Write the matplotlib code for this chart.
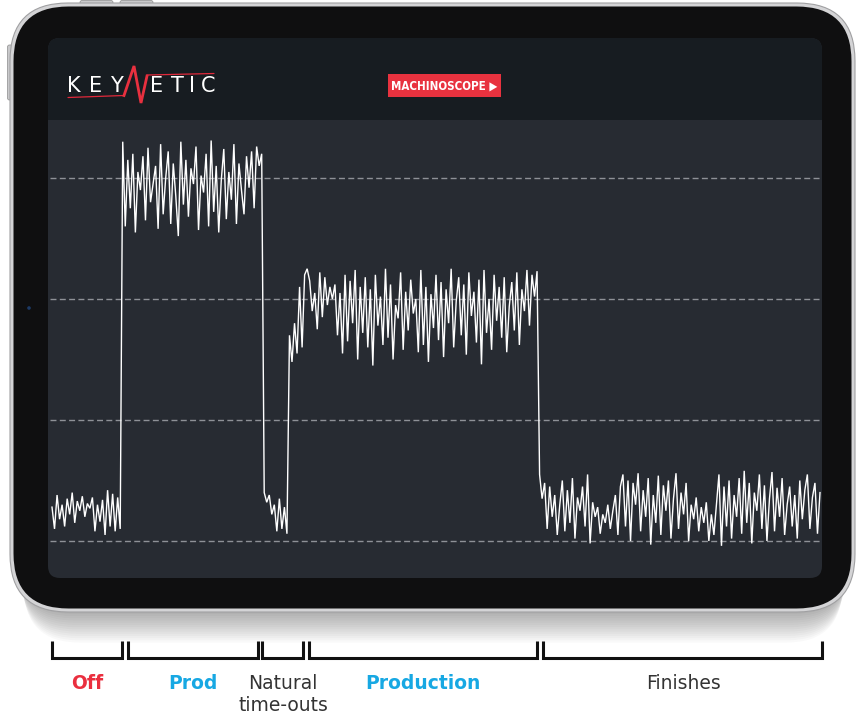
import numpy as np
import matplotlib
matplotlib.use("Agg")
import matplotlib.pyplot as plt
from matplotlib.patches import FancyBboxPatch, Rectangle, Circle

# ---------------- data (signal level, grid units) ----------------
off_values = [0.28, 0.10, 0.38, 0.18, 0.30, 0.12, 0.35, 0.22, 0.40, 0.15, 0.33, 0.25, 0.37, 0.20,
              0.31, 0.27, 0.36, 0.08, 0.30, 0.16, 0.34, 0.05, 0.42, 0.12, 0.39, 0.08, 0.36, 0.10]
prod_values = [3.30, 2.60, 3.15, 2.75, 3.20, 2.55, 3.05, 2.90, 3.18, 2.65, 3.25, 2.80, 2.95, 3.10,
               2.58, 3.28, 2.70, 3.00, 3.22, 2.62, 3.12, 2.85, 2.52, 3.30, 2.78, 3.15, 2.68, 3.08,
               2.95, 3.26, 2.57, 3.02, 2.88, 3.20, 2.60, 3.31, 2.72, 3.10, 2.55, 2.98, 3.24, 2.66,
               3.05, 2.82, 3.28, 2.62, 3.12, 2.90, 2.70, 3.18, 2.92, 3.22, 2.75, 3.26, 3.10, 3.20]
timeout_values = [0.40, 0.32, 0.38, 0.22, 0.30, 0.08, 0.35, 0.10, 0.28, 0.06]
production_values = [1.70, 1.48, 1.80, 1.55, 2.10, 1.60, 2.20, 2.25, 2.15, 1.90, 2.05, 1.75, 2.22,
                      1.85, 2.18, 1.95, 2.10, 2.00, 2.12, 1.70, 2.05, 1.55, 2.20, 1.65, 2.15, 1.80,
                      2.24, 1.50, 2.10, 1.72, 2.18, 1.60, 2.08, 1.45, 2.20, 1.78, 2.02, 1.62, 2.25,
                      1.68, 2.12, 1.50, 1.95, 1.84, 2.22, 1.58, 2.06, 1.74, 2.16, 1.88, 2.00, 1.56,
                      2.24, 1.62, 2.10, 1.48, 2.04, 1.76, 2.20, 1.66, 2.14, 1.52, 2.08, 1.80, 2.25,
                      1.60, 1.98, 2.18, 1.70, 2.12, 1.54, 2.22, 1.86, 2.06, 1.64, 2.16, 1.46, 2.24,
                      1.72, 2.00, 1.58, 2.20, 1.82, 2.10, 1.68, 2.18, 1.56, 1.94, 2.14, 1.74, 2.22,
                      1.62, 2.08, 1.90, 2.24, 1.78, 2.20, 2.02, 2.23]
finish_values = [0.55, 0.35, 0.48, 0.10, 0.45, 0.20, 0.38, 0.05, 0.30, 0.50, 0.08, 0.42, 0.15, 0.52,
                 0.02, 0.36, 0.25, 0.45, 0.12, 0.55, -0.02, 0.32, 0.20, 0.28, 0.06, 0.22, 0.15, 0.30,
                 0.10, 0.25, 0.38, 0.05, 0.45, 0.55, 0.12, 0.50, 0.00, 0.48, 0.30, 0.56, 0.08, 0.42,
                 0.20, 0.52, -0.03, 0.38, 0.15, 0.54, 0.05, 0.46, 0.25, 0.50, 0.02, 0.35, 0.56, 0.10,
                 0.40, 0.22, 0.48, 0.00, 0.30, 0.18, 0.36, 0.08, 0.28, 0.15, 0.32, 0.00, 0.22, 0.05,
                 0.30, 0.55, -0.04, 0.45, 0.12, 0.50, 0.02, 0.38, 0.20, 0.52, 0.06, 0.58, 0.15, 0.48,
                 -0.02, 0.40, 0.25, 0.55, 0.10, 0.46, 0.00, 0.35, 0.57, 0.08, 0.44, 0.20, 0.52, 0.05,
                 0.30, 0.45, 0.12, 0.38, 0.02, 0.50, 0.18, 0.42, 0.55, 0.10, 0.36, 0.48, 0.06, 0.40]
grid_levels = [0, 1, 2, 3]

phase_labels = ["Off", "Prod", "Natural\ntime-outs", "Production", "Finishes"]
phase_colors = ["#ea2f3f", "#17a8e3", "#333333", "#17a8e3", "#333333"]
phase_weights = ["bold", "bold", "normal", "bold", "normal"]

signal = np.concatenate([off_values, prod_values, timeout_values, production_values, finish_values])
n = len(signal)

# ---------------- figure ----------------
W, H = 858, 717
fig = plt.figure(figsize=(W / 100, H / 100), dpi=100)
fig.patch.set_facecolor("white")

bg = fig.add_axes([0, 0, 1, 1])
bg.set_xlim(0, W)
bg.set_ylim(H, 0)
bg.axis("off")

def rbox(x, y, w, h, r, **kw):
    p = FancyBboxPatch((x, y), w, h, boxstyle=f"round,pad=0,rounding_size={r}", **kw)
    bg.add_patch(p)
    return p

# soft shadow under tablet
for i in range(14):
    rbox(16 + i * 0.6, 8 + i * 2.2, 834 - i * 1.2, 606, 56, fc="black", ec="none", alpha=0.022)

# buttons
for bx in (80, 120):
    rbox(bx, 0.5, 33, 6, 2, fc="#c9c9cb", ec="#9a9a9a", lw=0.6)
rbox(7.5, 45, 6, 55, 2, fc="#c9c9cb", ec="#9a9a9a", lw=0.6)

# rim and body
rbox(10, 3, 845, 609, 58, fc="#d4d4d6", ec="#a0a0a2", lw=0.8)
rbox(13.5, 6.5, 838, 602, 55, fc="#0f0f10", ec="none")

# camera
bg.add_patch(Circle((29, 308), 1.8, fc="#1c3a66", ec="none"))

# screen
rbox(48, 38, 774, 540, 12, fc="#272b32", ec="none")
rbox(48, 38, 774, 82, 12, fc="#171c21", ec="none")
bg.add_patch(Rectangle((48, 100), 774, 20, fc="#171c21", ec="none"))

# logo
for ch, cx in zip("KEY", (73.5, 96, 116)):
    bg.text(cx, 86, ch, color="white", fontsize=15, fontweight="normal",
            family="DejaVu Sans", ha="center", va="center")
for ch, cx in zip("ETIC", (156.5, 177.5, 192, 208.5)):
    bg.text(cx, 86, ch, color="white", fontsize=15, fontweight="normal",
            family="DejaVu Sans", ha="center", va="center")
bg.plot([68, 124], [97.5, 95.5], color="#e0283a", lw=0.9, solid_capstyle="round")
bg.plot([124, 134, 141, 147], [95.5, 66, 103, 76], color="#e8303f", lw=2.0,
        solid_joinstyle="miter")
bg.plot([147, 214], [75, 73.5], color="#e0283a", lw=0.9, solid_capstyle="round")

# badge
bg.add_patch(Rectangle((388, 74), 113, 23, fc="#e8323f", ec="none"))
bg.text(444.5, 86, "MACHINOSCOPE \u25B6", color="white", fontsize=8.3, fontweight="bold",
        family=["DejaVu Sans"], fontstretch="condensed", ha="center", va="center")

# brackets and phase labels
bracket_px = [(52, 122), (128, 258), (262, 303), (309, 537), (543, 822)]
label_cx = [87, 193, 283, 423, 683]
for (x0, x1), cx, lab, col, wt in zip(bracket_px, label_cx, phase_labels, phase_colors, phase_weights):
    bg.plot([x0, x0, x1, x1], [641, 658, 658, 641], color="#111111", lw=2.2,
            solid_joinstyle="miter", solid_capstyle="butt")
    bg.text(cx, 674, lab, color=col, fontsize=13.5, fontweight=wt, family="DejaVu Sans",
            ha="center", va="top", linespacing=1.22, multialignment="center")

# ---------------- chart axes ----------------
ax = fig.add_axes([48 / W, (H - 578) / H, 774 / W, 458 / H])
ax.set_zorder(2)
ax.patch.set_alpha(0)
ax.axis("off")
upp = 1 / 121.0
ax.set_ylim(-37 * upp, 3 + 58 * upp)
xpp = (n - 1) / 768.0
ax.set_xlim(-4 * xpp, (n - 1) + 2 * xpp)

for g in grid_levels:
    ax.axhline(g, xmin=2 / 774, xmax=772 / 774, color="#8e9197", lw=1.0,
               dashes=(4.3, 2.4), zorder=1)

ax.plot(np.arange(n), signal, color="white", lw=1.0, zorder=3, solid_joinstyle="miter")

fig.savefig("out.png", dpi=100, facecolor="white")
